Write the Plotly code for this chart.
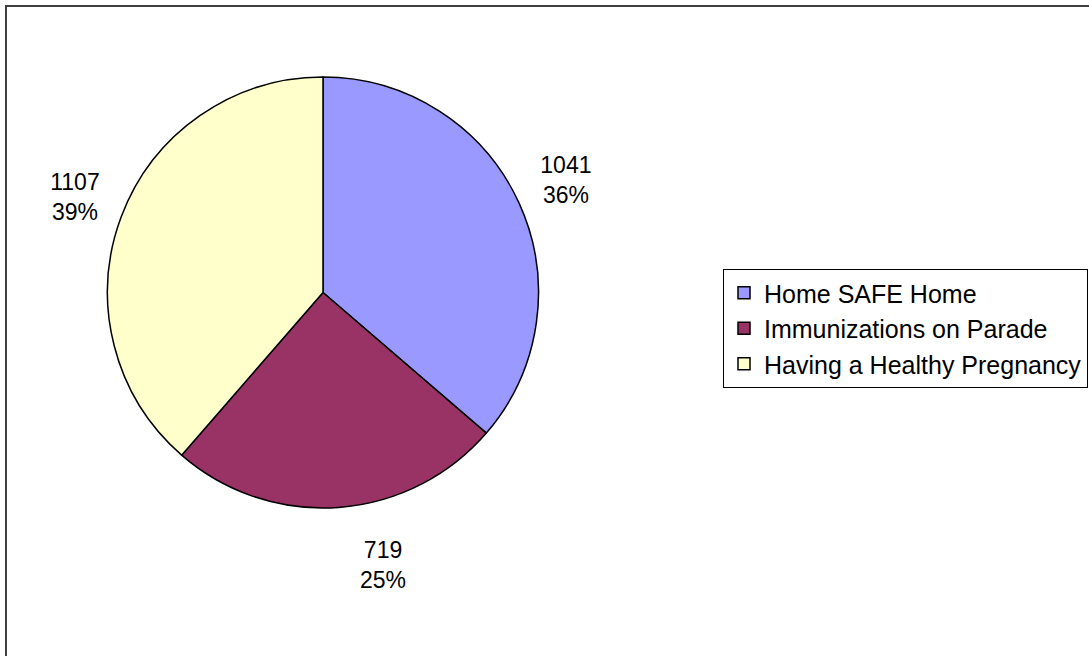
import plotly.graph_objects as go

labels = ["Home SAFE Home", "Immunizations on Parade", "Having a Healthy Pregnancy"]
values = [1041, 719, 1107]
colors = ["#9999FF", "#993366", "#FFFFCC"]
label_templates = [
    "%{value}<br>%{percent:.0%}<br>\u00a0",
    "\u00a0<br>%{value}<br>%{percent:.0%}",
    "%{value}<br>%{percent:.0%}<br>\u00a0",
]

W, H = 1089, 656
cx, cy, r = 323, 292.5, 215.5

fig = go.Figure(go.Pie(
    labels=labels,
    values=values,
    sort=False,
    direction="clockwise",
    rotation=0,
    marker=dict(colors=colors, line=dict(color="black", width=1.5)),
    texttemplate=label_templates,
    textposition="outside",
    textfont=dict(family="Liberation Sans, Arial", size=23, color="black"),
    hoverinfo="label+value+percent",
    domain=dict(x=[(cx - r) / W, (cx + r) / W], y=[(H - cy - r) / H, (H - cy + r) / H]),
))

fig.update_layout(
    width=W, height=H,
    margin=dict(l=0, r=0, t=0, b=0),
    paper_bgcolor="white",
    plot_bgcolor="white",
    font=dict(family="Liberation Sans, Arial", color="black"),
    showlegend=True,
    legend=dict(
        x=723 / W, y=(H - 269) / H, xanchor="left", yanchor="top",
        bordercolor="black", borderwidth=1, bgcolor="white",
        font=dict(family="Liberation Sans, Arial", size=25, color="black"),
        traceorder="normal",
    ),
    shapes=[dict(type="rect", xref="paper", yref="paper",
                 x0=6 / W, x1=1.02, y0=-0.02, y1=(H - 6) / H,
                 line=dict(color="#404040", width=2), layer="below")],
)

fig.write_html("out.html", config={"displayModeBar": False},
               post_script="document.body.style.margin='0';")
